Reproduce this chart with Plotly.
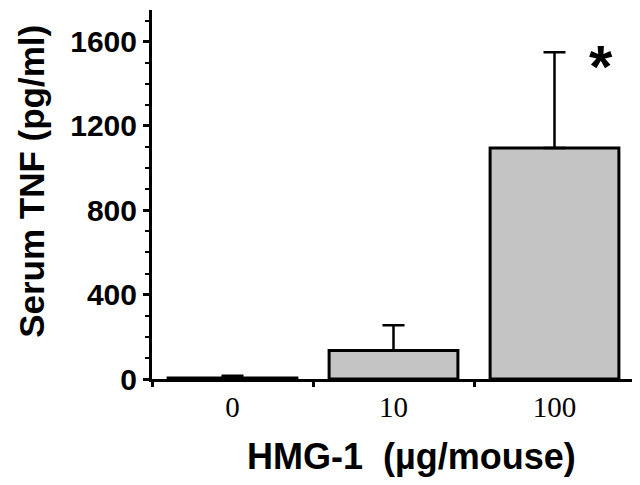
import plotly.graph_objects as go

doses = ["0", "10", "100"]
tnf_mean = [5, 135, 1095]
tnf_err = [10, 120, 455]
y_ticks = [0, 400, 800, 1200, 1600]

fig = go.Figure()
fig.add_trace(go.Bar(
    x=doses, y=tnf_mean, width=0.8,
    marker=dict(color="#c4c4c4", line=dict(color="black", width=3)),
    error_y=dict(type="data", array=tnf_err, arrayminus=[0]*3, symmetric=False,
                 color="black", thickness=2.5, width=11),
))
fig.add_annotation(x=2, y=1480, xshift=46, text="<b>*</b>", showarrow=False,
                   yanchor="middle",
                   font=dict(size=60, color="black", family="Liberation Sans"))
fig.add_annotation(xref="paper", yref="paper", x=0.538, y=-0.211,
                   xanchor="center", yanchor="middle", showarrow=False,
                   text="<b>HMG-1  (µg/mouse)</b>",
                   font=dict(family="Liberation Sans", size=36, color="black"))
fig.add_annotation(xref="paper", yref="paper", x=-0.250, y=0.535,
                   xanchor="center", yanchor="middle", showarrow=False, textangle=-90,
                   text="<b>Serum TNF (pg/ml)</b>", borderpad=0,
                   font=dict(family="Liberation Sans", size=35, color="black"))

fig.update_layout(
    width=640, height=485, showlegend=False,
    plot_bgcolor="white", paper_bgcolor="white",
    margin=dict(l=144, r=13, t=2, b=114, autoexpand=False),
    xaxis=dict(
        type="category", range=[-0.5, 2.5], automargin=False,
        showline=True, linecolor="black", linewidth=3,
        ticks="outside", tickson="boundaries", ticklen=5, tickwidth=3, tickcolor="black",
        tickfont=dict(family="Liberation Serif", size=29, color="black"),
    ),
    yaxis=dict(
        range=[0, 1750], tickvals=y_ticks, automargin=False,
        showline=True, linecolor="black", linewidth=3, showgrid=False, zeroline=False,
        ticks="outside", ticklen=6, tickwidth=3, tickcolor="black",
        minor=dict(dtick=100, ticks="outside", ticklen=4, tickwidth=2, tickcolor="black"),
        tickfont=dict(family="Liberation Sans", size=30, color="black", weight="bold"),
    ),
)
fig.write_html("out.html")
